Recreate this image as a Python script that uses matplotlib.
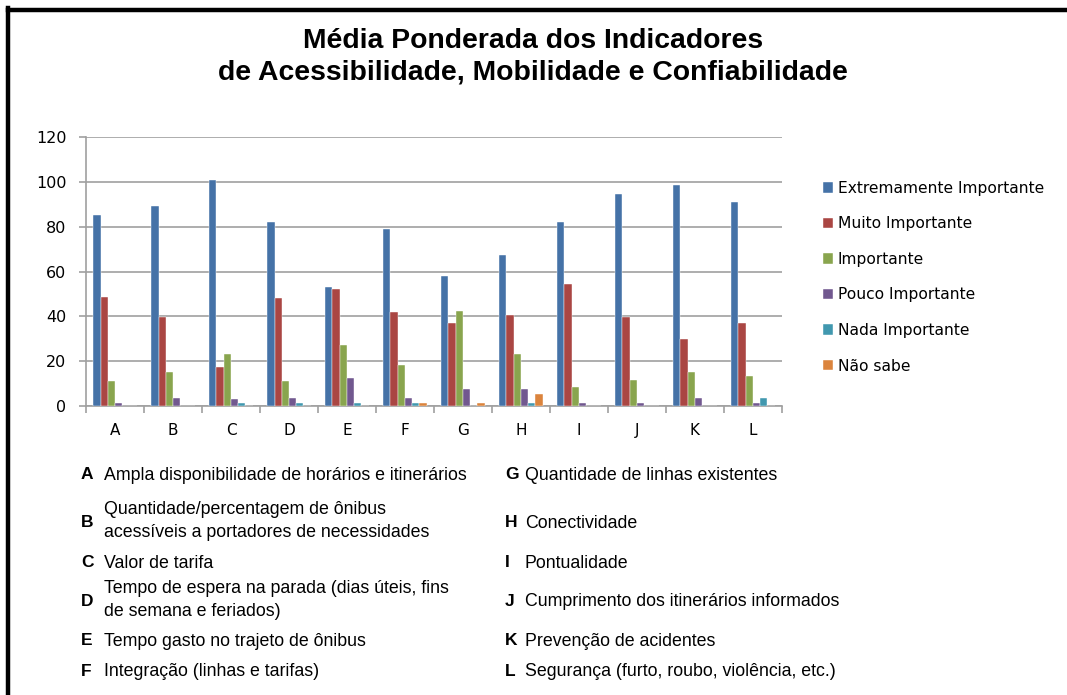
import numpy as np
import matplotlib.pyplot as plt
from matplotlib.lines import Line2D

# Categories and series values
categories = ["A", "B", "C", "D", "E", "F", "G", "H", "I", "J", "K", "L"]
series_names = ["Extremamente Importante", "Muito Importante", "Importante",
                "Pouco Importante", "Nada Importante", "Não sabe"]
extremamente = [85, 89, 101, 82, 53, 79, 58, 67.5, 82, 94.5, 98.5, 91]
muito = [48.5, 39.5, 17.5, 48, 52, 42, 37, 40.5, 54.5, 39.5, 30, 37]
importante = [11, 15, 23, 11, 27, 18.5, 42.5, 23, 8.5, 11.5, 15, 13.5]
pouco = [1.5, 3.5, 3, 3.5, 12.5, 3.5, 7.5, 7.5, 1.5, 1.5, 3.5, 1.5]
nada = [0, 0, 1.5, 1.5, 1.5, 1.5, 0, 1.5, 0, 0, 0, 3.5]
nao_sabe = [0, 0, 0, 0, 0, 1.5, 1.5, 5.5, 0, 0, 0, 0]
colors = ["#4572A7", "#AA4643", "#89A54E", "#71588F", "#4198AF", "#DB843D"]

descriptions_left = [
    ("A", "Ampla disponibilidade de horários e itinerários"),
    ("B", "Quantidade/percentagem de ônibus\nacessíveis a portadores de necessidades"),
    ("C", "Valor de tarifa"),
    ("D", "Tempo de espera na parada (dias úteis, fins\nde semana e feriados)"),
    ("E", "Tempo gasto no trajeto de ônibus"),
    ("F", "Integração (linhas e tarifas)"),
]
descriptions_right = [
    ("G", "Quantidade de linhas existentes"),
    ("H", "Conectividade"),
    ("I", "Pontualidade"),
    ("J", "Cumprimento dos itinerários informados"),
    ("K", "Prevenção de acidentes"),
    ("L", "Segurança (furto, roubo, violência, etc.)"),
]
row_y = [473, 521, 561, 600, 639, 670]

W, H = 1067, 695
fig = plt.figure(figsize=(W / 100, H / 100), dpi=100)
fig.patch.set_facecolor("white")

# black frame (top and left only)
fig.add_artist(Line2D([8 / W, 8 / W], [0, 1 - 8 / H], color="black", lw=3.2,
                      transform=fig.transFigure, solid_capstyle="projecting"))
fig.add_artist(Line2D([8 / W, 1], [1 - 10 / H, 1 - 10 / H], color="black", lw=3.2,
                      transform=fig.transFigure, solid_capstyle="projecting"))

fig.text(533 / W, 1 - 41 / H, "Média Ponderada dos Indicadores", ha="center", va="center",
         fontsize=20.4, fontweight="bold", family="Liberation Sans")
fig.text(533 / W, 1 - 73 / H, "de Acessibilidade, Mobilidade e Confiabilidade", ha="center",
         va="center", fontsize=20.4, fontweight="bold", family="Liberation Sans")

ax = fig.add_axes([86 / W, 1 - 406 / H, (782 - 86) / W, (406 - 137) / H])
all_series = [extremamente, muito, importante, pouco, nada, nao_sabe]
x = np.arange(len(categories))
bw = 0.125
for i, (vals, name, c) in enumerate(zip(all_series, series_names, colors)):
    ax.bar(x + (i - 2.5) * bw, vals, width=bw, color=c, label=name, zorder=3,
           edgecolor="white", linewidth=0.3)

ax.set_xlim(-0.5, len(categories) - 0.5)
ax.set_ylim(0, 120)
ax.set_yticks(range(0, 121, 20))
ax.yaxis.grid(True, color="#A0A0A0", lw=1.2, zorder=0)
ax.set_xticks(x)
ax.set_xticklabels(categories)
ax.set_xticks(np.arange(-0.5, len(categories)), minor=True)
ax.tick_params(axis="x", which="major", length=0, pad=12, labelsize=11)
ax.tick_params(axis="x", which="minor", length=5, color="#A0A0A0", width=1.2)
ax.tick_params(axis="y", length=5, color="#A0A0A0", width=1.2, labelsize=11.5, pad=9)
for s in ["top", "right"]:
    ax.spines[s].set_visible(False)
for s in ["left", "bottom"]:
    ax.spines[s].set_color("#A0A0A0")
    ax.spines[s].set_linewidth(1.2)

ax.legend(loc="upper left", bbox_to_anchor=(1.05, 0.86), frameon=False,
          fontsize=11.2, handlelength=0.65, handleheight=0.65, handletextpad=0.3,
          labelspacing=1.32, borderaxespad=0)

for rows, lx, tx in [(descriptions_left, 81, 104), (descriptions_right, 505, 525)]:
    for (letter, desc), yy in zip(rows, row_y):
        fig.text(lx / W, 1 - yy / H, letter, ha="left", va="center_baseline",
                 fontsize=12.5, fontweight="bold", family="Liberation Sans")
        fig.text(tx / W, 1 - yy / H, desc, ha="left",
                 va="center" if "\n" in desc else "center_baseline",
                 fontsize=12.8, family="Liberation Sans", linespacing=1.5)

fig.savefig("out.png", dpi=100)
